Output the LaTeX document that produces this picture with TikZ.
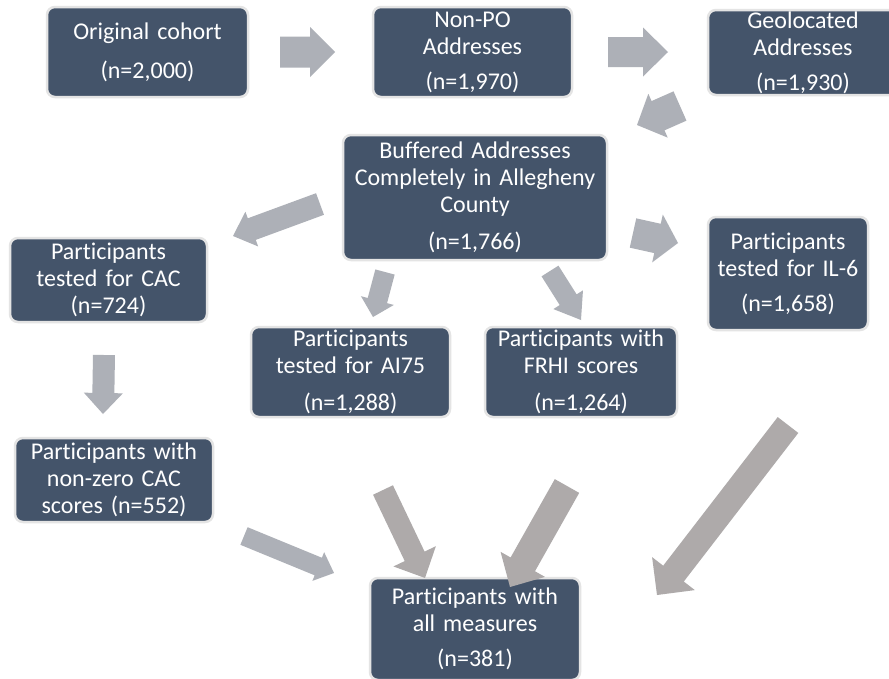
\documentclass[tikz,border=0pt]{standalone}
\usepackage{fontspec}
\setmainfont{Carlito}[Ligatures=NoCommon]
\definecolor{boxfill}{HTML}{44546A}
\definecolor{boxline}{HTML}{E4E4E4}
\definecolor{arrblue}{HTML}{ADB0B7}
\definecolor{arrwarm}{HTML}{AEAAAA}
\newcommand\blockarr[8]{%
  \pgfmathsetmacro\baAng{atan2(-(#4-#2),#3-#1)}%
  \pgfmathsetmacro\baLen{veclen(#3-#1,#4-#2)}%
  \begin{scope}[shift={(#1,#2)},rotate=\baAng]
    \fill[#8] (0,-#5/2) -- (\baLen-#7,-#5/2) -- (\baLen-#7,-#6/2) -- (\baLen,0)
      -- (\baLen-#7,#6/2) -- (\baLen-#7,#5/2) -- (0,#5/2) -- cycle;
  \end{scope}}
\begin{document}
\begin{tikzpicture}[x=1pt,y=-1pt,
  box/.style={rectangle, rounded corners=8pt, fill=boxfill, draw=boxline,
    line width=2.5pt, text=white, inner sep=0pt, align=center,
    font=\fontsize{24}{27}\selectfont}]
\useasboundingbox (0,0) rectangle (889,678);
\clip (0,0) rectangle (889,678);
\fill[white] (0,0) rectangle (889,678);

% boxes
\node[box, minimum width=201pt, minimum height=90pt, text width=193pt] (orig) at (147.5,52) {Original cohort\\[12pt](n=2,000)};
\node[box, minimum width=199pt, minimum height=90pt, text width=191pt] (nonpo) at (472.5,52) {Non-PO\\Addresses\\[8pt](n=1,970)};
\node[box, minimum width=190pt, minimum height=85pt, text width=182pt] (geo) at (803,52.5) {Geolocated\\Addresses\\[8pt](n=1,930)};
\node[box, minimum width=264pt, minimum height=125pt, text width=256pt] (buff) at (475,197.5) {Buffered Addresses\\Completely in Allegheny\\County\\[10pt](n=1,766)};
\node[box, minimum width=197pt, minimum height=84pt, text width=189pt] (cac) at (108.5,280) {Participants\\tested for CAC\\(n=724)};
\node[box, minimum width=160pt, minimum height=113pt, text width=152pt] (il6) at (788,273.5) {Participants\\tested for IL-6\\[8pt](n=1,658)};
\node[box, minimum width=199pt, minimum height=90pt, text width=191pt] (ai75) at (350.5,372) {Participants\\tested for AI75\\[10pt](n=1,288)};
\node[box, minimum width=192pt, minimum height=90pt, text width=184pt] (frhi) at (581,372) {Participants with\\FRHI scores\\[10pt](n=1,264)};
\node[box, minimum width=198pt, minimum height=84pt, text width=190pt] (nz) at (114,480) {Participants with\\non-zero CAC\\scores (n=552)};
\node[box, minimum width=210pt, minimum height=102pt, text width=202pt] (all) at (475,629) {Participants with\\all measures\\[8pt](n=381)};

% block arrows: tail x,y ; tip x,y ; shaft ; head ; head length ; colour
\blockarr{280}{52}{335}{52}{31}{50}{25}{arrblue}
\blockarr{608}{52}{668}{52}{30}{49}{25}{arrblue}
\blockarr{680}{106}{637}{125}{32}{48}{23}{arrblue}
\blockarr{320}{204}{233}{236}{23}{37}{20}{arrblue}
\blockarr{633}{233}{678}{243}{30}{49}{21}{arrblue}
\blockarr{385}{272}{373}{317}{20}{34}{17}{arrblue}
\blockarr{550}{271}{581}{320}{20}{35}{24}{arrblue}
\blockarr{104}{355}{103}{414}{22}{39}{21}{arrblue}
\blockarr{244}{536}{334}{573}{19}{31}{17}{arrblue}
\blockarr{383}{490}{425}{578}{22}{47}{24}{arrwarm}
\blockarr{567}{486}{510}{587}{28}{51}{26}{arrwarm}
\blockarr{788}{425}{657}{595}{26}{54}{27}{arrwarm}
\end{tikzpicture}
\end{document}
